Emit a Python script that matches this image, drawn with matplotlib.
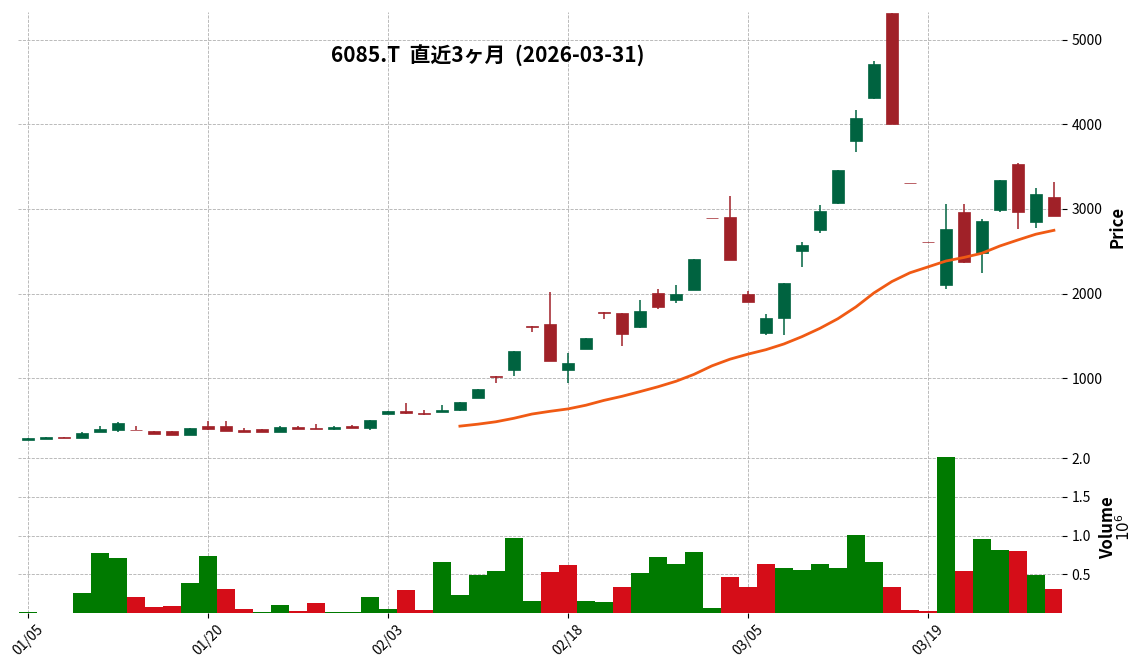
import numpy as np
import matplotlib
matplotlib.use("Agg")
import matplotlib.pyplot as plt
from matplotlib.patches import Rectangle

plt.rcParams['font.family'] = ['Noto Sans CJK JP', 'DejaVu Sans']

opens  = [270,282,298,294,365,381,388,377,377,321,436,436,388,400,365,424,412,400,436,412,
          578,613,590,602,625,759,1028,1099,1619,1643,1091,1348,1782,1775,1601,2008,1921,2036,2897,2901,
          2000,1530,1708,2502,2751,3071,3802,4312,5320,3310,2609,2095,2968,2474,2984,3538,2842,3146]
closes = [294,306,290,353,400,471,381,341,321,412,400,377,365,365,424,400,400,424,412,507,
          613,590,578,625,720,874,1016,1324,1604,1205,1181,1478,1771,1518,1798,1838,2000,2403,2893,2395,
          1897,1715,2119,2569,2972,3466,4071,4712,4004,3305,2605,2767,2375,2862,3348,2960,3182,2921]
highs  = [294,306,300,358,436,483,436,377,377,412,495,495,408,400,432,432,455,432,440,507,
          613,704,621,680,720,874,1028,1324,1619,2014,1296,1478,1782,1775,1925,2055,2103,2403,2897,3154,
          2028,1759,2119,2609,3052,3466,4166,4755,5320,3310,2609,3063,3063,2885,3348,3545,3249,3320]
lows   = [270,282,288,294,357,361,381,341,321,321,384,377,365,365,365,400,400,388,412,385,
          578,574,558,594,610,759,941,1020,1540,1205,941,1348,1700,1380,1593,1814,1885,2036,2893,2395,
          1897,1510,1514,2316,2720,3063,3676,4300,4004,3305,2605,2055,2360,2241,2960,2763,2771,2921]
volumes = [0.013,0,0,0.26,0.78,0.71,0.21,0.08,0.09,0.39,0.74,0.31,0.05,0.013,0.10,0.026,0.13,0.013,0.013,0.21,
           0.05,0.30,0.04,0.66,0.23,0.49,0.54,0.97,0.155,0.53,0.62,0.155,0.14,0.33,0.52,0.72,0.63,0.79,0.065,0.46,
           0.34,0.63,0.58,0.56,0.63,0.58,1.01,0.66,0.34,0.04,0.026,2.02,0.54,0.96,0.815,0.80,0.49,0.31]
vol_up = [1,1,1,1,1,1,0,0,0,1,1,0,0,1,1,0,0,1,1,1,
          1,0,0,1,1,1,1,1,1,0,0,1,1,0,1,1,1,1,1,0,
          0,0,1,1,1,1,1,1,0,0,0,1,0,1,1,0,1,0]
tick_pos = [0,10,20,30,40,50]
tick_labels = ['01/05','01/20','02/03','02/18','03/05','03/19']
mav = 25
title = '6085.T  直近3ヶ月  (2026-03-31)'

n = len(closes)
x = np.arange(n)
ma = np.full(n, np.nan)
for i in range(mav-1, n):
    ma[i] = np.mean(closes[i-mav+1:i+1])

UP, DN = '#006340', '#a02128'
VUP, VDN = '#007a00', '#d50d18'

fig = plt.figure(figsize=(11.48, 6.70), dpi=100)
W, H = 1148, 670
axp = fig.add_axes([18/W, 1-442/H, (1062-18)/W, (442-12)/H])
axv = fig.add_axes([18/W, 1-613/H, (1062-18)/W, (613-442)/H], sharex=axp)

for i in range(n):
    o, c, h, l = opens[i], closes[i], highs[i], lows[i]
    col = UP if c >= o else DN
    axp.vlines(x[i], l, h, color=col, lw=1.1, zorder=2)
    b = max(abs(c-o), 6)
    axp.add_patch(Rectangle((x[i]-0.33, min(o, c)), 0.66, b, facecolor=col, edgecolor=col, lw=0.5, zorder=3))
axp.plot(x, ma, color='#f05a14', lw=2, zorder=4)

axv.bar(x, volumes, width=1.0, color=[VUP if u else VDN for u in vol_up], edgecolor='none')

for ax in (axp, axv):
    for s in ax.spines.values():
        s.set_visible(False)
    ax.grid(True, ls='--', lw=0.6, color='#b0b0b0')
    ax.set_axisbelow(True)
    ax.yaxis.tick_right()
    ax.yaxis.set_label_position('right')
    ax.tick_params(labelsize=10)

axp.set_xlim(-0.55, 57.45)
axp.set_ylim(243, 5331)
axp.set_yticks([1000, 2000, 3000, 4000, 5000])
axp.set_ylabel('Price', fontsize=12, fontweight='bold')
axp.tick_params(axis='x', labelbottom=False, length=0)
axp.text(0.45, 0.9, title, transform=axp.transAxes, ha='center', va='center', fontsize=15, fontweight='bold')

axv.set_ylim(0, 2.21)
axv.set_yticks([0.5, 1.0, 1.5, 2.0])
axv.set_yticklabels(['0.5', '1.0', '1.5', '2.0'])
axv.set_ylabel('Volume', fontsize=12, fontweight='bold', labelpad=6)
axv.text(1.06, 0.5, r'$10^6$', transform=axv.transAxes, rotation=90, ha='center', va='center', fontsize=11)
axv.set_xticks(tick_pos)
axv.set_xticklabels(tick_labels, rotation=45, ha='center')

fig.savefig('out.png', dpi=100)
